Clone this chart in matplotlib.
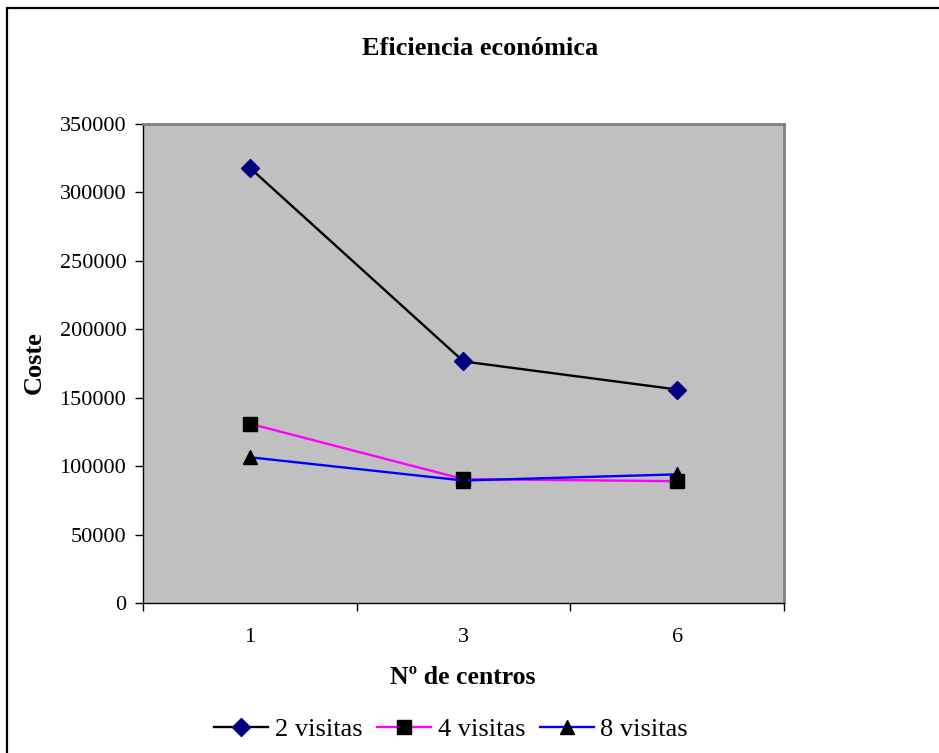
import matplotlib
matplotlib.use("Agg")
import matplotlib.pyplot as plt
from matplotlib.patches import Rectangle

plt.rcParams['font.family'] = ['Liberation Serif', 'DejaVu Serif']

# datos
centros = ['1', '3', '6']
visitas_2 = [318000, 176500, 156000]
visitas_4 = [131000, 90500, 89000]
visitas_8 = [106500, 89500, 94000]
y_ticks = [0, 50000, 100000, 150000, 200000, 250000, 300000, 350000]

fig = plt.figure(figsize=(9.39, 7.53), dpi=100)
W, H = 939, 753

# marco exterior del grafico
fig.patches.append(Rectangle((7 / W, -0.05), 1.1, 1 - 8 / H + 0.05,
                             transform=fig.transFigure, fill=False,
                             edgecolor='black', linewidth=1.6))

ax = fig.add_axes([143 / W, 1 - 603 / H, (784 - 143) / W, (603 - 124) / H])
ax.set_facecolor('#c0c0c0')

x = list(range(len(centros)))
ax.plot(x, visitas_2, color='black', lw=1.7, marker='D', ms=9.5,
        mfc='#000080', mec='#000080', label='2 visitas', zorder=3)
ax.plot(x, visitas_4, color='#ff00ff', lw=1.7, marker='s', ms=10,
        mfc='black', mec='black', label='4 visitas', zorder=3)
ax.plot(x, visitas_8, color='#0000ff', lw=1.7, marker='^', ms=10,
        mfc='black', mec='black', label='8 visitas', zorder=3)

ax.set_xlim(-0.5, len(centros) - 0.5)
ax.set_ylim(0, 350000)
ax.set_yticks(y_ticks)
ax.set_yticklabels([str(v) for v in y_ticks], fontsize=16)

# marcas entre categorias, etiquetas centradas
ax.set_xticks([i - 0.5 for i in range(len(centros) + 1)])
ax.set_xticklabels([])
ax.set_xticks(x, minor=True)
ax.set_xticklabels(centros, minor=True, fontsize=16)
ax.tick_params(axis='x', which='major', direction='out', length=6, width=1, color='black')
ax.tick_params(axis='x', which='minor', length=0, pad=18)
ax.tick_params(axis='y', direction='out', length=6, width=1, pad=6)

for s in ['top', 'right']:
    ax.spines[s].set_color('#808080')
    ax.spines[s].set_linewidth(2)
for s in ['left', 'bottom']:
    ax.spines[s].set_color('black')
    ax.spines[s].set_linewidth(1)

fig.text(480 / W, 1 - 55 / H, 'Eficiencia económica', ha='center', va='baseline',
         fontsize=19, fontweight='bold')
fig.text(34 / W, 1 - 363 / H, 'Coste', ha='center', va='center', rotation=90,
         fontsize=19, fontweight='bold')
fig.text(463 / W, 1 - 684 / H, 'Nº de centros', ha='center', va='baseline',
         fontsize=18.5, fontweight='bold')

fig.legend(loc='center', bbox_to_anchor=(451 / W, 1 - 729 / H), ncol=3,
           frameon=False, fontsize=19, handlelength=2.05, handletextpad=0.25,
           columnspacing=0.55, borderpad=0)

fig.savefig('out.png', dpi=100)
